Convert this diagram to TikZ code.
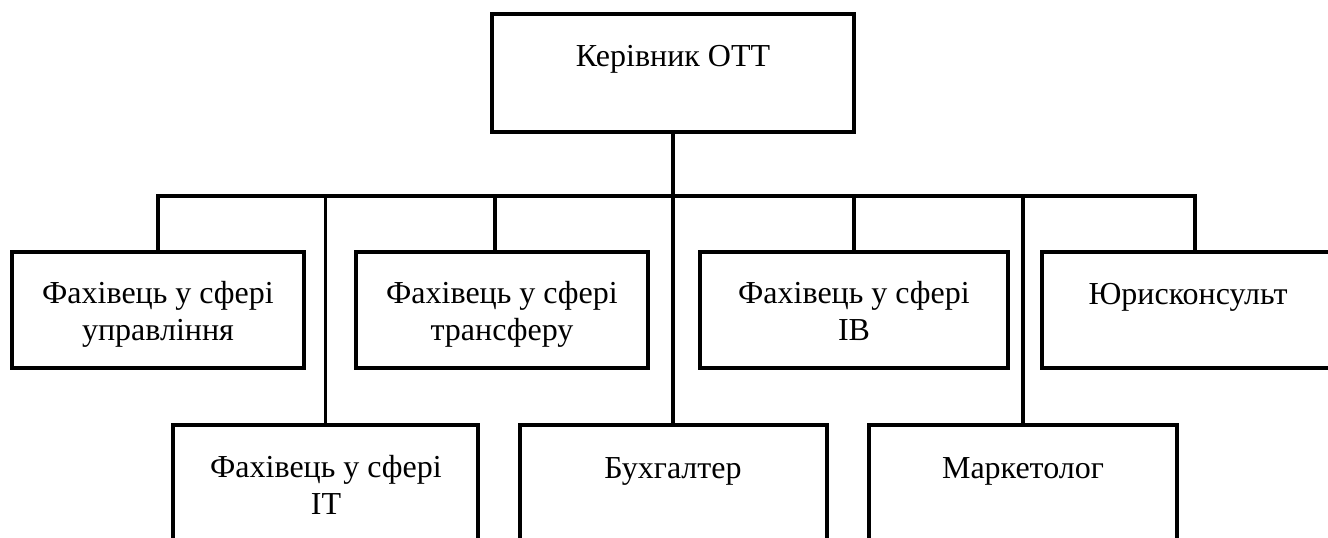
\documentclass[tikz,border=0pt]{standalone}
\usepackage{fontspec}
\setmainfont{Liberation Serif}
\begin{document}
\begin{tikzpicture}[x=1pt,y=-1pt,
  box/.style={draw, line width=3.6pt, inner sep=0pt, minimum height=116pt},
  link/.style={line width=3.6pt},
  caption/.style={font=\fontsize{32}{37}\selectfont, align=center, anchor=base, inner sep=0pt}]
\useasboundingbox (0,0) rectangle (1328,538);
\clip (0,0) rectangle (1328,538);

% head of the department
\node[box, minimum width=362pt, minimum height=118pt] (head) at (673,73) {};
\node[caption] (headT) at (673,66) {Керівник ОТТ};

% first row of staff (two-line captions sit on the baseline of their last line)
\node[box, minimum width=292pt] (A) at (158,310) {};
\node[box, minimum width=292pt] (B) at (502,310) {};
\node[box, minimum width=308pt] (C) at (854,310) {};
\node[box, minimum width=306pt] (D) at (1195,310) {};
\node[caption] (AT) at (158,340) {Фахівець у сфері\\управління};
\node[caption] (BT) at (502,340) {Фахівець у сфері\\трансферу};
\node[caption] (CT) at (854,340) {Фахівець у сфері\\IB};
\node[caption] (DT) at (1188,304) {Юрисконсульт};

% second row of staff (runs past the lower edge)
\node[box, minimum width=305pt, minimum height=170pt] (E) at (325.5,510) {};
\node[box, minimum width=307pt, minimum height=170pt] (F) at (673.5,510) {};
\node[box, minimum width=308pt, minimum height=170pt] (G) at (1023,510) {};
\node[caption] (ET) at (326,514) {Фахівець у сфері\\IT};
\node[caption] (FT) at (673,478) {Бухгалтер};
\node[caption] (GT) at (1023,478) {Маркетолог};

% connectors
\coordinate (bus) at (673,196);
\coordinate (dropB) at (495,196);
\draw[link] (A.north) -- (A.north |- bus) -- (D.north |- bus) -- (D.north);
\draw[link] (head.south) -- (head.south |- F.north);
\draw[link] (dropB) -- (dropB |- B.north);
\draw[link] (C.north) -- (C.north |- bus);
\draw[link] (E.north) -- (E.north |- bus);
\draw[link] (G.north) -- (G.north |- bus);
\end{tikzpicture}
\end{document}
